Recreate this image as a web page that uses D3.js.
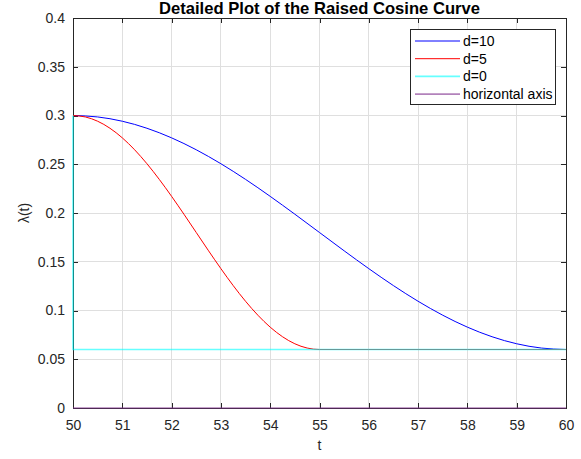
<!DOCTYPE html>
<html>
<head>
<meta charset="utf-8">
<script src="https://cdn.jsdelivr.net/npm/d3@7"></script>
<style>
  html, body { margin: 0; padding: 0; background: #fff; }
  svg { display: block; font-family: "Liberation Sans", Arial, Helvetica, sans-serif; }
</style>
</head>
<body>
<svg id="chart" width="581" height="459"></svg>
<script>
// Raised cosine curves: lambda(t) for three transition widths d
const tD10 = [50, 50.5, 51, 51.5, 52, 52.5, 53, 53.5, 54, 54.5, 55, 55.5, 56, 56.5, 57, 57.5, 58, 58.5, 59, 59.5, 60];
const valD10 = [0.3, 0.29852, 0.29413, 0.28692, 0.27708, 0.26485, 0.25053, 0.23448, 0.21708, 0.19877, 0.18,
                0.16123, 0.14292, 0.12552, 0.10947, 0.09515, 0.08292, 0.07308, 0.06587, 0.06148, 0.06];

const tD5 = [50, 50.25, 50.5, 50.75, 51, 51.25, 51.5, 51.75, 52, 52.25, 52.5, 52.75, 53, 53.25, 53.5, 53.75, 54, 54.25, 54.5, 54.75, 55, 56, 57, 58, 59, 60];
const valD5 = [0.3, 0.29852, 0.29413, 0.28692, 0.27708, 0.26485, 0.25053, 0.23448, 0.21708, 0.19877, 0.18,
               0.16123, 0.14292, 0.12552, 0.10947, 0.09515, 0.08292, 0.07308, 0.06587, 0.06148, 0.06,
               0.06, 0.06, 0.06, 0.06, 0.06];

const tD0 = [50, 50, 60];
const valD0 = [0.3, 0.06, 0.06];

const tAxis = [50, 60];
const valAxis = [0, 0];

const xTicks = [50, 51, 52, 53, 54, 55, 56, 57, 58, 59, 60];
const yTicks = [0, 0.05, 0.1, 0.15, 0.2, 0.25, 0.3, 0.35, 0.4];
const yTickLabels = ["0", "0.05", "0.1", "0.15", "0.2", "0.25", "0.3", "0.35", "0.4"];

const seriesNames = ["d=10", "d=5", "d=0", "horizontal axis"];
const seriesColors = ["#0000ff", "#ff0000", "#00ffff", "#7e2f8e"];
const seriesOpacity = [1, 1, 0.6, 0.6];
const seriesWidth = [1, 1, 1.6, 1.6];

const svg = d3.select("#chart");
const m = { left: 73, right: 15, top: 18, bottom: 51 };
const W = 581, H = 459;
const x = d3.scaleLinear().domain([50, 60]).range([m.left, W - m.right]);
const y = d3.scaleLinear().domain([0, 0.4]).range([H - m.bottom, m.top]);

const axisColor = "#262626";
const fontSize = 14;

// grid
const grid = svg.append("g");
grid.selectAll("line.gx").data(xTicks).join("line")
  .attr("x1", d => x(d)).attr("x2", d => x(d))
  .attr("y1", y(0)).attr("y2", y(0.4))
  .attr("stroke", "#dfdfdf").attr("stroke-width", 1).attr("shape-rendering", "crispEdges");
grid.selectAll("line.gy").data(yTicks).join("line")
  .attr("y1", d => y(d)).attr("y2", d => y(d))
  .attr("x1", x(50)).attr("x2", x(60))
  .attr("stroke", "#dfdfdf").attr("stroke-width", 1).attr("shape-rendering", "crispEdges");

// series
const seriesData = [
  d3.zip(tD10, valD10),
  d3.zip(tD5, valD5),
  d3.zip(tD0, valD0),
  d3.zip(tAxis, valAxis)
];
const smooth = d3.line().x(d => x(d[0])).y(d => y(d[1])).curve(d3.curveMonotoneX);
const straight = d3.line().x(d => x(d[0])).y(d => y(d[1]));

// axes (box with inward ticks)
const tickLen = 5;
const gAx = svg.append("g").attr("shape-rendering", "crispEdges");
gAx.append("rect")
  .attr("x", x(50)).attr("y", y(0.4))
  .attr("width", x(60) - x(50)).attr("height", y(0) - y(0.4))
  .attr("fill", "none").attr("stroke", axisColor).attr("stroke-width", 1);

const xb = d3.axisBottom(x).tickValues(xTicks).tickSizeInner(-tickLen).tickSizeOuter(0).tickPadding(12).tickFormat(d3.format("d"));
const xt = d3.axisTop(x).tickValues(xTicks).tickSizeInner(-tickLen).tickSizeOuter(0).tickFormat("");
const yl = d3.axisLeft(y).tickValues(yTicks).tickSizeInner(-tickLen).tickSizeOuter(0).tickPadding(8).tickFormat((d, i) => yTickLabels[i]);
const yr = d3.axisRight(y).tickValues(yTicks).tickSizeInner(-tickLen).tickSizeOuter(0).tickFormat("");

function styleAxis(g) {
  g.select(".domain").remove();
  g.selectAll(".tick line").attr("stroke", axisColor);
  g.selectAll(".tick text").attr("fill", axisColor).attr("font-size", fontSize)
    .attr("font-family", "Liberation Sans, Arial, sans-serif");
}
gAx.append("g").attr("transform", `translate(0,${y(0)})`).call(xb).call(styleAxis);
gAx.append("g").attr("transform", `translate(0,${y(0.4)})`).call(xt).call(styleAxis);
gAx.append("g").attr("transform", `translate(${x(50)},0)`).call(yl).call(styleAxis);
gAx.append("g").attr("transform", `translate(${x(60)},0)`).call(yr).call(styleAxis);

const gS = svg.append("g");
seriesData.forEach((data, i) => {
  gS.append("path")
    .attr("d", i < 2 ? smooth(data) : straight(data))
    .attr("fill", "none")
    .attr("stroke", seriesColors[i])
    .attr("stroke-opacity", seriesOpacity[i])
    .attr("stroke-width", seriesWidth[i]);
});

// title and axis labels
svg.append("text")
  .attr("x", (x(50) + x(60)) / 2).attr("y", 13.5)
  .attr("text-anchor", "middle").attr("font-weight", "bold")
  .attr("font-size", 16.6).attr("fill", "#000")
  .text("Detailed Plot of the Raised Cosine Curve");
svg.append("text")
  .attr("x", (x(50) + x(60)) / 2).attr("y", 450)
  .attr("text-anchor", "middle").attr("font-size", fontSize).attr("fill", axisColor)
  .text("t");
svg.append("text")
  .attr("transform", `translate(29,${(y(0) + y(0.4)) / 2}) rotate(-90)`)
  .attr("text-anchor", "middle").attr("font-size", fontSize).attr("fill", axisColor)
  .text("λ(t)");

// legend
const lg = svg.append("g");
lg.append("rect")
  .attr("x", 410.5).attr("y", 29.5).attr("width", 145).attr("height", 75)
  .attr("fill", "#fff").attr("stroke", axisColor).attr("stroke-width", 1);
seriesNames.forEach((name, i) => {
  const yy = 41 + i * 17.7;
  lg.append("line")
    .attr("x1", 415).attr("x2", 460).attr("y1", yy).attr("y2", yy)
    .attr("stroke", seriesColors[i]).attr("stroke-opacity", seriesOpacity[i])
    .attr("stroke-width", seriesWidth[i]);
  lg.append("text")
    .attr("x", 463).attr("y", yy + 5)
    .attr("font-size", fontSize).attr("fill", "#000")
    .text(name);
});
</script>
</body>
</html>
